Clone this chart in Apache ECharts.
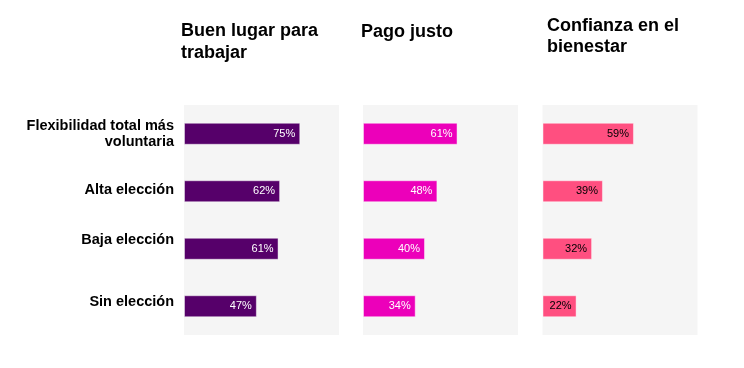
<!DOCTYPE html>
<html>
<head>
<meta charset="utf-8">
<script src="https://cdn.jsdelivr.net/npm/echarts@6/dist/echarts.min.js"></script>
<style>
html,body{margin:0;padding:0;background:#fff;}
#main{width:744px;height:368px;}
</style>
</head>
<body>
<div id="main"></div>
<script>
var categories = ['Flexibilidad total más\nvoluntaria', 'Alta elección', 'Baja elección', 'Sin elección'];
var panelTitles = ['Buen lugar para\ntrabajar', 'Pago justo', 'Confianza en el\nbienestar'];
var buenLugar = [75, 62, 61, 47];
var pagoJusto = [61, 48, 40, 34];
var confianza = [59, 39, 32, 22];

var seriesValues = [buenLugar, pagoJusto, confianza];
var colors = ['#56006A', '#EC00BA', '#FF4F80'];
var labelColors = ['#ffffff', '#ffffff', '#000000'];
var gridLefts = [184, 363, 542.5];
var labelShift = [0, 1.5, 9, 4];
var titleTops = [20.5, 21, 16];
var titleLefts = [181, 361, 547];
var font = '"Liberation Sans", Arial, sans-serif';

var rich = {};
labelShift.forEach(function (s, k) {
  rich['s' + k] = {
    fontFamily: font, fontWeight: 'bold', fontSize: 14.5, color: '#000',
    lineHeight: 16, padding: [0, 0, 2 * s, 0]
  };
});

var chart = echarts.init(document.getElementById('main'));

var grids = [], xAxes = [], yAxes = [], series = [], titles = [];
for (var i = 0; i < 3; i++) {
  grids.push({
    left: gridLefts[i], top: 105, width: 155, height: 230,
    show: true, backgroundColor: '#F5F5F5', borderWidth: 0
  });
  xAxes.push({
    type: 'value', gridIndex: i, min: 0, max: 100,
    show: false
  });
  yAxes.push({
    type: 'category', gridIndex: i, inverse: true,
    data: categories,
    axisLine: { show: false }, axisTick: { show: false },
    axisLabel: {
      show: i === 0, margin: 10, align: 'right',
      formatter: function (value, index) {
        return value.split('\n').map(function (l) { return '{s' + index + '|' + l + '}'; }).join('\n');
      },
      rich: rich
    }
  });
  series.push({
    type: 'bar', xAxisIndex: i, yAxisIndex: i,
    data: seriesValues[i], barWidth: 22,
    itemStyle: { color: colors[i], borderColor: 'rgba(255,255,255,0.45)', borderWidth: 1 },
    label: {
      show: true, position: 'insideRight', distance: 5,
      formatter: '{c}%', color: labelColors[i],
      fontFamily: font, fontSize: 11
    },
    silent: true
  });
  titles.push({
    text: panelTitles[i], left: titleLefts[i], top: titleTops[i], padding: 0,
    textStyle: { fontFamily: font, fontWeight: 'bold', fontSize: 18, lineHeight: i === 2 ? 21 : 22, color: '#000' }
  });
}

chart.setOption({
  animation: false,
  backgroundColor: '#ffffff',
  title: titles,
  grid: grids,
  xAxis: xAxes,
  yAxis: yAxes,
  series: series
});
</script>
</body>
</html>
